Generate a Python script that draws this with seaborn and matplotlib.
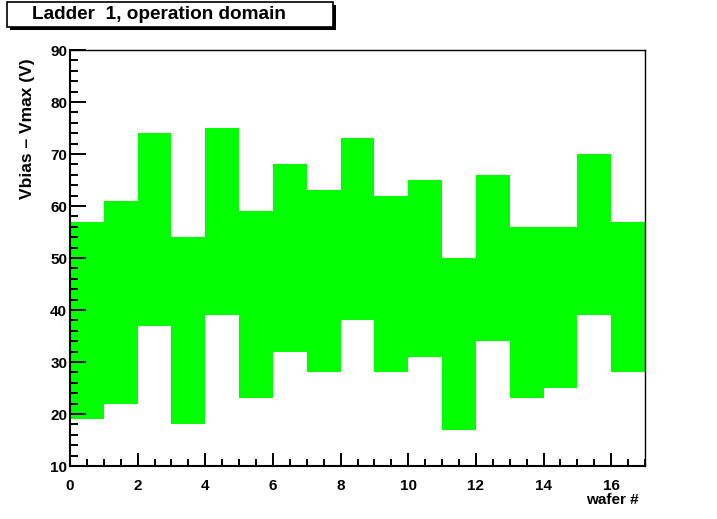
import numpy as np
import pandas as pd
import matplotlib
matplotlib.use("Agg")
import matplotlib.pyplot as plt
from matplotlib.patches import Rectangle
from matplotlib.ticker import MultipleLocator
import seaborn as sns

# ---- data ----
wafer = list(range(17))
upper = [57, 61, 74, 54, 75, 59, 68, 63, 73, 62, 65, 50, 66, 56, 56, 70, 57]
lower = [19, 22, 37, 18, 39, 23, 32, 28, 38, 28, 31, 17, 34, 23, 25, 39, 28]
title = "Ladder  1, operation domain"
xlabel = "wafer #"
ylabel = "Vbias – Vmax (V)"

sns.set_theme(style="white")
plt.rcParams["font.family"] = ["Liberation Sans", "DejaVu Sans"]
plt.rcParams["font.weight"] = "bold"
plt.rcParams["text.color"] = "black"
plt.rcParams["axes.labelcolor"] = "black"
plt.rcParams["xtick.color"] = "black"
plt.rcParams["ytick.color"] = "black"

df = pd.DataFrame({
    "center": [w + 0.5 for w in wafer],
    "height": [u - l for u, l in zip(upper, lower)],
    "lower": lower,
})

fig = plt.figure(figsize=(7.17, 5.19), dpi=100)
ax = fig.add_axes([70 / 717, 1 - 466 / 519, (645 - 70) / 717, (466 - 50) / 519])

sns.barplot(data=df, x="center", y="height", native_scale=True, width=1.0,
            bottom=df["lower"].to_numpy(), color="#00ff00", saturation=1,
            linewidth=0, errorbar=None, ax=ax, zorder=1)

ax.set_xlim(0, 17)
ax.set_ylim(10, 90)
ax.set_xlabel("")
ax.set_ylabel("")

ax.xaxis.set_major_locator(MultipleLocator(2))
ax.xaxis.set_minor_locator(MultipleLocator(0.5))
ax.yaxis.set_major_locator(MultipleLocator(10))
ax.yaxis.set_minor_locator(MultipleLocator(2))

ax.tick_params(axis="x", which="major", direction="in", length=9.5, width=1.4,
               labelsize=11, pad=9, bottom=True, top=False, colors="black")
ax.tick_params(axis="x", which="minor", direction="in", length=5, width=1.4,
               bottom=True, top=False)
ax.tick_params(axis="y", which="major", direction="in", length=11.5, width=1.4,
               labelsize=11, pad=2, left=True, right=False, colors="black")
ax.tick_params(axis="y", which="minor", direction="in", length=5.8, width=1.4,
               left=True, right=False)
for lab in ax.get_xticklabels() + ax.get_yticklabels():
    lab.set_fontweight("bold")
    lab.set_color("black")

for side, sp in ax.spines.items():
    sp.set_visible(True)
    sp.set_color("black")
    sp.set_linewidth(1.5 if side in ("left", "bottom") else 1.0)
    sp.set_zorder(5)
ax.set_axisbelow(False)
ax.grid(False)

# axis titles
fig.text(639 / 717, 1 - 500 / 519, xlabel, ha="right", va="center",
         fontsize=11, fontweight="bold", color="black")
fig.text(28 / 717, 1 - 58 / 519, ylabel, ha="center", va="top", rotation=90,
         fontsize=12.5, fontweight="bold", color="black")

# title box with shadow
W, H = 717, 519
x0, y0, x1, y1 = 7, 2, 333, 27
fig.patches.append(Rectangle(((x0 + 3) / W, 1 - (y1 + 3) / H), (x1 - x0) / W, (y1 - y0) / H,
                             transform=fig.transFigure, facecolor="black", edgecolor="black",
                             linewidth=0, zorder=10))
fig.patches.append(Rectangle((x0 / W, 1 - y1 / H), (x1 - x0) / W, (y1 - y0) / H,
                             transform=fig.transFigure, facecolor="white", edgecolor="black",
                             linewidth=1.2, zorder=11))
fig.text(32 / W, 1 - 14.5 / H, title, ha="left", va="center", fontsize=13.7,
         fontweight="bold", color="black", zorder=12)

fig.savefig("out.png", dpi=100, facecolor="white")
